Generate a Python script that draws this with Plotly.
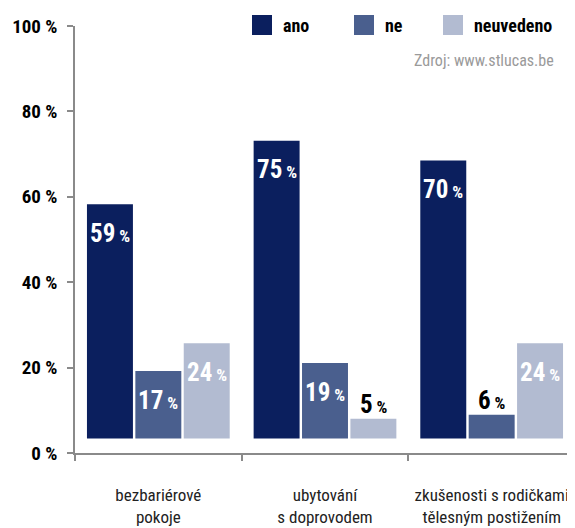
import plotly.graph_objects as go

categories = ["bezbariérové<br>pokoje", "ubytování<br>s doprovodem", "zkušenosti s rodičkami<br>tělesným postižením"]
series_names = ["ano", "ne", "neuvedeno"]
ano = [59, 75, 70]
ne = [17, 19, 6]
neuvedeno = [24, 5, 24]
series_values = [ano, ne, neuvedeno]
colors = ["#0b1f5e", "#4a5f8e", "#b2bbd1"]
ytick_pct = [0, 20, 40, 60, 80, 100]
ytick_text = ["0 %", "20 %", "40 %", "60 %", "80 %", "100 %"]
source_text = "Zdroj: www.stlucas.be"

FONT = "Roboto Condensed, Open Sans Condensed, Liberation Sans Narrow, Roboto, sans-serif"
# page body has an 8px margin -> figure is 8px smaller and everything is shifted by 8
OFF = 8
W, H = 575 - OFF, 528 - OFF
L, R, T, B = 75 - OFF, 0, 26 - OFF, 528 - 453
PW, PH = W - L - R, H - T - B
# bar scale: drawn bars sit slightly above the axis line and use a slightly smaller scale
LO, HI = -3.65, 103.9


def px(x):
    return (x - OFF - L) / PW


def py(y):
    return (H - B - (y - OFF)) / PH


fig = go.Figure()
for name, vals, col in zip(series_names, series_values, colors):
    fig.add_trace(go.Bar(name=name, x=categories, y=vals, marker=dict(color=col, line=dict(width=0)),
                         showlegend=False, hoverinfo="x+y"))

# value labels
offsets = [-48.5, 0, 48.5]
annotations = []
for i, vals in enumerate(series_values):
    for c, v in zip(categories, vals):
        inside = v >= 10
        annotations.append(dict(
            x=c, y=v, xref="x", yref="y", xshift=offsets[i],
            yshift=-29 if inside else 14,
            text=f"{v}<span style='font-size:17px'> %</span>",
            showarrow=False,
            font=dict(family=FONT, size=25, color="white" if inside else "black", weight="bold"),
        ))

# legend
legend_x = [252, 354, 443]
for name, col, lx in zip(series_names, colors, legend_x):
    fig.add_shape(type="rect", xref="paper", yref="paper",
                  x0=px(lx), x1=px(lx + 20), y0=py(35), y1=py(15),
                  fillcolor=col, line=dict(width=0))
    annotations.append(dict(x=px(lx + 29), y=py(25), xref="paper", yref="paper",
                            xanchor="left", yanchor="middle", showarrow=False, text=name,
                            font=dict(family=FONT, size=18, color="black", weight="bold")))

annotations.append(dict(x=px(556), y=py(61), xref="paper", yref="paper", xanchor="right",
                        yanchor="middle", showarrow=False, text=source_text,
                        font=dict(family=FONT, size=16, color="#9a9a9a")))

fig.update_layout(
    width=W, height=H,
    margin=dict(l=L, r=R, t=T, b=B, pad=0),
    paper_bgcolor="white", plot_bgcolor="white",
    barmode="group", bargap=0.129, bargroupgap=0.05,
    annotations=annotations,
    xaxis=dict(type="category", range=[-0.5, 2.5], showline=True, linecolor="#8a8a8a", linewidth=1.5,
               ticks="outside", tickson="boundaries", ticklen=6, tickcolor="#8a8a8a", tickwidth=1.5,
               ticklabelstandoff=26, showgrid=False, zeroline=False, tickangle=0, automargin=False,
               tickfont=dict(family=FONT, size=17, color="#222")),
    yaxis=dict(range=[LO, HI], tickvals=[LO + (HI - LO) * p / 100 for p in ytick_pct], ticktext=ytick_text,
               showline=True, linecolor="#8a8a8a", linewidth=1.5, ticks="outside", ticklen=6,
               tickcolor="#8a8a8a", tickwidth=1.5, showgrid=False, zeroline=False, ticklabelstandoff=6,
               automargin=False,
               tickfont=dict(family=FONT, size=19, color="black", weight="bold")),
    showlegend=False,
)

fig.write_html("out.html")
